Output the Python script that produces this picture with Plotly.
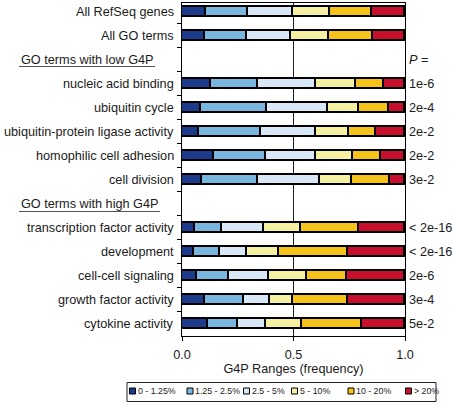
import plotly.graph_objects as go

# ---------------- data ----------------
rows = [
    "All RefSeq genes", "All GO terms", "GO terms with low G4P",
    "nucleic acid binding", "ubiquitin cycle", "ubiquitin-protein ligase activity",
    "homophilic cell adhesion", "cell division", "GO terms with high G4P",
    "transcription factor activity", "development", "cell-cell signaling",
    "growth factor activity", "cytokine activity",
]
headers = ["GO terms with low G4P", "GO terms with high G4P"]
p_values = ["", "", "<i>P</i> =", "1e-6", "2e-4", "2e-2", "2e-2", "3e-2", "",
            "< 2e-16", "< 2e-16", "2e-6", "3e-4", "5e-2"]
range_names = ["0 - 1.25%", "1.25 - 2.5%", "2.5 - 5%", "5 - 10%", "10 - 20%", "> 20%"]

r_0_125   = [0.108, 0.105, None, 0.131, 0.083, 0.075, 0.144, 0.089, None, 0.059, 0.053, 0.066, 0.105, 0.117]
r_125_25  = [0.188, 0.187, None, 0.210, 0.297, 0.280, 0.232, 0.254, None, 0.120, 0.117, 0.145, 0.175, 0.133]
r_25_5    = [0.200, 0.197, None, 0.261, 0.276, 0.247, 0.227, 0.274, None, 0.188, 0.123, 0.178, 0.114, 0.126]
r_5_10    = [0.169, 0.171, None, 0.177, 0.136, 0.147, 0.162, 0.145, None, 0.165, 0.140, 0.170, 0.104, 0.162]
r_10_20   = [0.188, 0.197, None, 0.128, 0.136, 0.123, 0.128, 0.170, None, 0.260, 0.311, 0.181, 0.246, 0.271]
r_gt20    = [0.147, 0.143, None, 0.093, 0.072, 0.128, 0.107, 0.068, None, 0.208, 0.256, 0.260, 0.256, 0.191]

series = [r_0_125, r_125_25, r_25_5, r_5_10, r_10_20, r_gt20]
colors = ["#1c3a8a", "#79b6df", "#d8e8f6", "#f6f0a2", "#f5c21b", "#c8102e"]

# ---------------- layout geometry ----------------
W, H = 453, 403
L, R, T, B = 182, 48, 3, 67
PW, PH = W - L - R, H - T - B
FONT = "Liberation Sans"
TXT = "#1a1a1a"
FS = 12.7


def px_x(px):
    return (px - L) / PW


def px_y(py):
    return (H - B - py) / PH


fig = go.Figure()
for name, vals, col in zip(range_names, series, colors):
    fig.add_trace(go.Bar(
        x=vals, y=rows, orientation="h", name=name,
        marker=dict(color=col, line=dict(color="black", width=1.6)),
        width=0.41, showlegend=False, hoverinfo="x+y+name",
    ))

annotations = []
shapes = []
for i, r in enumerate(rows):
    if r in headers:
        annotations.append(dict(x=px_x(19), xref="paper", y=r, yref="y", text=r,
                                xanchor="left", yanchor="middle", showarrow=False,
                                font=dict(size=FS, color=TXT, family=FONT)))
    else:
        annotations.append(dict(x=px_x(176), xref="paper", y=r, yref="y", text=r,
                                xanchor="right", yanchor="middle", showarrow=False,
                                font=dict(size=FS, color=TXT, family=FONT)))
    if p_values[i]:
        annotations.append(dict(x=px_x(407), xref="paper", y=r, yref="y", text=p_values[i],
                                xanchor="left", yanchor="middle", showarrow=False,
                                font=dict(size=FS, color=TXT, family=FONT)))

# underlines for section headers
for y_px, x_end in [(66.5, 155), (211.5, 160)]:
    shapes.append(dict(type="line", xref="paper", yref="paper",
                       x0=px_x(19), x1=px_x(x_end), y0=px_y(y_px), y1=px_y(y_px),
                       line=dict(color="#555555", width=1)))

# legend box
shapes.append(dict(type="rect", xref="paper", yref="paper",
                   x0=px_x(127), x1=px_x(436), y0=px_y(382.5), y1=px_y(401.5),
                   line=dict(color="#222222", width=1), fillcolor="white"))
sw_x = [132.5, 190, 246.5, 294.5, 351, 408.5]
sw_y = 391
for sx, name, col in zip(sw_x, range_names, colors):
    shapes.append(dict(type="rect", xref="paper", yref="paper",
                       x0=px_x(sx - 3), x1=px_x(sx + 3), y0=px_y(sw_y - 3), y1=px_y(sw_y + 3),
                       line=dict(color="black", width=1), fillcolor=col))
    annotations.append(dict(x=px_x(sx + 3), xref="paper", y=px_y(sw_y), yref="paper",
                            text=name, xanchor="left", yanchor="middle", showarrow=False,
                            font=dict(size=8.8, color=TXT, family=FONT)))

fig.update_layout(
    width=W, height=H,
    margin=dict(l=L, r=R, t=T, b=B, pad=0),
    barmode="stack", bargap=0,
    plot_bgcolor="white", paper_bgcolor="white",
    font=dict(family=FONT, size=FS, color=TXT),
    annotations=annotations, shapes=shapes,
    xaxis=dict(
        range=[0, 1], tickvals=[0, 0.5, 1], ticktext=["0.0", "0.5", "1.0"],
        ticks="outside", ticklen=4, tickcolor="black", tickwidth=1.2,
        ticklabelstandoff=3,
        showline=True, linecolor="black", linewidth=1.2, mirror=True,
        showgrid=True, gridcolor="#222222", gridwidth=1, zeroline=False,
        tickfont=dict(size=FS, color=TXT, family=FONT),
        title=dict(text="G4P Ranges (frequency)", standoff=0,
                   font=dict(size=FS, color=TXT, family=FONT)),
        fixedrange=True,
    ),
    yaxis=dict(
        type="category", categoryorder="array", categoryarray=rows,
        range=[13.51, -0.36], tickson="boundaries",
        ticks="outside", ticklen=4, tickcolor="black", tickwidth=1.2,
        showticklabels=False, showgrid=False, zeroline=False,
        showline=True, linecolor="black", linewidth=1.2, mirror=True,
        fixedrange=True,
    ),
)

fig.write_html("out.html", config={"displayModeBar": False},
               post_script="document.body.style.margin='0';")
